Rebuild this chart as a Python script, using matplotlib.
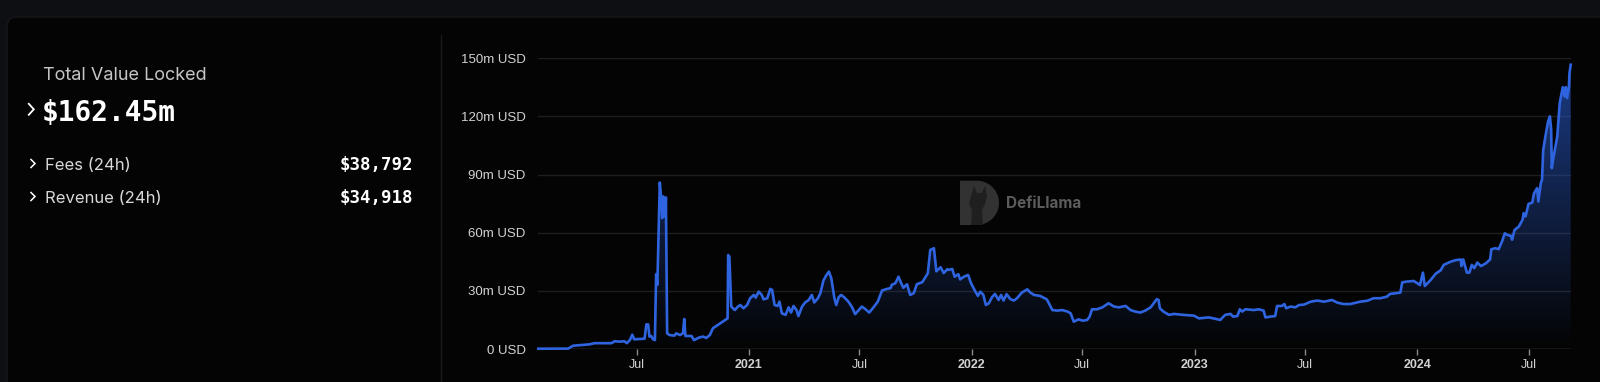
import numpy as np
import matplotlib
matplotlib.use("Agg")
import matplotlib.pyplot as plt
import matplotlib.dates as mdates
from matplotlib.lines import Line2D
from matplotlib.patches import FancyBboxPatch, Polygon
from datetime import datetime

# TVL series (millions USD)
dates = [
    "2020-01-22", "2020-03-11", "2020-03-19", "2020-04-15", "2020-04-23", "2020-05-21",
    "2020-05-26", "2020-06-03", "2020-06-11", "2020-06-15", "2020-06-20", "2020-06-24",
    "2020-06-27", "2020-07-14", "2020-07-17", "2020-07-20", "2020-07-22", "2020-07-25",
    "2020-07-28", "2020-07-31", "2020-08-02", "2020-08-04", "2020-08-08", "2020-08-10",
    "2020-08-12", "2020-08-14", "2020-08-17", "2020-08-18", "2020-08-20", "2020-08-24",
    "2020-09-01", "2020-09-04", "2020-09-10", "2020-09-15", "2020-09-17", "2020-09-19",
    "2020-09-29", "2020-10-03", "2020-10-12", "2020-10-18", "2020-10-23", "2020-10-29",
    "2020-11-03", "2020-11-11", "2020-11-27", "2020-11-28", "2020-11-30", "2020-12-03",
    "2020-12-09", "2020-12-14", "2020-12-18", "2020-12-23", "2020-12-29",
    "2021-01-03", "2021-01-09", "2021-01-12", "2021-01-17", "2021-01-22", "2021-01-25",
    "2021-01-31", "2021-02-05", "2021-02-08", "2021-02-12", "2021-02-17", "2021-02-20",
    "2021-02-24", "2021-03-02", "2021-03-07", "2021-03-11", "2021-03-15", "2021-03-20",
    "2021-03-23", "2021-03-29", "2021-04-03", "2021-04-09", "2021-04-14", "2021-04-18",
    "2021-04-24", "2021-04-28", "2021-05-03", "2021-05-08", "2021-05-12", "2021-05-16",
    "2021-05-21", "2021-05-24", "2021-05-28", "2021-06-01", "2021-06-06", "2021-06-13",
    "2021-06-19", "2021-06-24", "2021-06-30", "2021-07-05", "2021-07-11", "2021-07-17",
    "2021-07-24", "2021-07-31", "2021-08-07", "2021-08-15", "2021-08-21", "2021-08-23",
    "2021-08-29", "2021-09-03", "2021-09-07", "2021-09-11", "2021-09-17", "2021-09-22",
    "2021-09-28", "2021-10-03", "2021-10-12", "2021-10-17", "2021-10-21", "2021-10-25",
    "2021-10-31", "2021-11-04", "2021-11-11", "2021-11-16", "2021-11-22", "2021-11-24",
    "2021-11-30", "2021-12-04", "2021-12-10", "2021-12-13", "2021-12-19", "2021-12-26",
    "2021-12-31", "2022-01-07", "2022-01-11", "2022-01-15", "2022-01-20", "2022-01-24",
    "2022-01-29", "2022-02-03", "2022-02-08", "2022-02-14", "2022-02-18", "2022-02-22",
    "2022-02-27", "2022-03-05", "2022-03-11", "2022-03-16", "2022-03-24", "2022-04-02",
    "2022-04-07", "2022-04-13", "2022-04-23", "2022-05-04", "2022-05-13", "2022-05-21",
    "2022-05-29", "2022-06-07", "2022-06-12", "2022-06-17", "2022-06-25", "2022-07-02",
    "2022-07-09", "2022-07-13", "2022-07-17", "2022-07-25", "2022-08-03", "2022-08-13",
    "2022-08-22", "2022-08-30", "2022-09-10", "2022-09-18", "2022-09-26", "2022-10-04",
    "2022-10-12", "2022-10-21", "2022-10-26", "2022-10-31", "2022-11-03", "2022-11-05",
    "2022-11-11", "2022-11-20", "2022-11-28", "2022-12-14", "2022-12-31", "2023-01-08",
    "2023-01-24", "2023-02-01", "2023-02-12", "2023-02-20", "2023-03-01", "2023-03-05",
    "2023-03-12", "2023-03-16", "2023-03-20", "2023-03-25", "2023-04-08", "2023-04-16",
    "2023-04-24", "2023-04-27", "2023-05-05", "2023-05-13", "2023-05-16", "2023-05-24",
    "2023-05-28", "2023-05-31", "2023-06-07", "2023-06-15", "2023-06-21", "2023-06-29",
    "2023-07-10", "2023-07-21", "2023-08-01", "2023-08-14", "2023-08-23", "2023-09-02",
    "2023-09-13", "2023-09-29", "2023-10-11", "2023-10-21", "2023-11-01", "2023-11-12",
    "2023-11-17", "2023-12-04", "2023-12-07", "2023-12-15", "2023-12-26", "2024-01-01",
    "2024-01-05", "2024-01-10", "2024-01-13", "2024-01-22", "2024-01-31", "2024-02-08",
    "2024-02-13", "2024-02-24", "2024-03-03", "2024-03-12", "2024-03-13", "2024-03-16",
    "2024-03-22", "2024-03-26", "2024-03-30", "2024-04-03", "2024-04-08", "2024-04-14",
    "2024-04-22", "2024-04-29", "2024-05-01", "2024-05-08", "2024-05-13", "2024-05-19",
    "2024-05-23", "2024-05-27", "2024-06-02", "2024-06-04", "2024-06-08", "2024-06-15",
    "2024-06-21", "2024-06-23", "2024-06-26", "2024-07-01", "2024-07-07", "2024-07-10",
    "2024-07-15", "2024-07-17", "2024-07-21", "2024-07-23", "2024-07-25", "2024-07-29",
    "2024-08-02", "2024-08-05", "2024-08-07", "2024-08-08", "2024-08-11", "2024-08-17",
    "2024-08-21", "2024-08-24", "2024-08-26", "2024-08-29", "2024-08-31", "2024-09-02",
    "2024-09-05", "2024-09-06", "2024-09-08",
]
tvl = [
    0.15, 0.2, 1.7, 2.4, 3.0, 3.0,
    4.0, 3.8, 4.0, 3.0, 4.6, 7.4,
    5.0, 5.3, 12.7, 12.7, 6.4, 6.7,
    5.0, 4.6, 38.6, 33.1, 85.9, 79.0,
    67.5, 78.7, 68.3, 78.2, 8.1, 7.2,
    6.9, 8.1, 7.2, 8.1, 15.5, 6.7,
    6.7, 4.6, 6.0, 6.4, 5.7, 7.2,
    10.7, 12.4, 15.8, 48.5, 47.6, 21.9,
    20.1, 21.9, 22.7, 21.0, 22.7,
    26.2, 27.9, 26.5, 29.6, 27.9, 25.6,
    26.2, 31.0, 30.5, 22.7, 22.2, 24.4,
    18.4, 17.6, 21.5, 18.8, 22.2, 20.1,
    17.0, 21.9, 24.0, 25.3, 27.9, 24.0,
    26.2, 28.8, 35.3, 38.2, 39.9, 36.4,
    26.2, 22.7, 26.7, 27.9, 26.7, 24.4,
    21.5, 18.0, 20.1, 21.9, 20.5, 18.8,
    21.5, 24.4, 30.2, 31.0, 31.4, 33.1,
    34.0, 37.3, 34.2, 31.6, 33.4, 27.9,
    28.8, 33.4, 34.5, 37.1, 39.1, 51.1,
    52.0, 40.1, 42.2, 39.2, 41.2, 40.8,
    41.3, 37.3, 38.6, 35.9, 37.3, 38.2,
    33.8, 29.6, 27.4, 29.6, 27.9, 22.7,
    23.6, 26.7, 28.4, 25.3, 27.9, 25.0,
    28.3, 25.8, 25.0, 26.2, 29.1, 30.8,
    29.1, 27.9, 27.4, 25.6, 20.1, 19.8,
    20.1, 19.3, 18.4, 14.1, 15.3, 14.6,
    15.0, 16.7, 20.5, 20.5, 21.5, 23.6,
    21.9, 21.5, 22.2, 20.1, 19.3, 18.8,
    19.8, 21.5, 23.6, 25.7, 25.3, 21.0,
    19.3, 17.6, 18.1, 17.6, 17.2, 15.8,
    16.3, 15.8, 15.0, 17.6, 18.1, 16.7,
    17.0, 20.5, 19.3, 20.5, 20.1, 20.5,
    19.8, 16.3, 16.7, 17.0, 22.2, 22.2,
    23.2, 21.0, 21.9, 21.5, 22.7, 22.9,
    24.4, 25.0, 24.4, 25.3, 23.9, 23.2,
    23.2, 24.4, 24.9, 26.2, 26.2, 27.0,
    28.4, 29.1, 34.4, 34.8, 35.1, 33.9,
    33.0, 39.4, 32.5, 35.4, 38.9, 40.6,
    43.4, 45.0, 45.8, 46.2, 42.8, 46.2,
    39.4, 39.4, 43.4, 41.7, 44.6, 42.8,
    44.2, 46.2, 51.5, 52.0, 51.5, 55.9,
    59.7, 58.9, 58.4, 56.4, 61.4, 63.2,
    66.6, 70.1, 68.4, 74.9, 75.5, 80.4,
    83.0, 76.1, 85.5, 87.3, 102.8, 110.5,
    117.5, 120.0, 113.1, 93.3, 99.3, 109.6,
    126.9, 132.0, 135.1, 130.3, 135.1, 129.5,
    135.1, 142.3, 146.7,
]
y_ticks = [0, 30, 60, 90, 120, 150]
x_ticks = ["2020-07-01", "2021-01-01", "2021-07-01", "2022-01-01", "2022-07-01",
           "2023-01-01", "2023-07-01", "2024-01-01", "2024-07-01"]

tvl_label = "$162.45m"
fees_label = "$38,792"
revenue_label = "$34,918"

W, H = 1600, 382
fig = plt.figure(figsize=(W / 100, H / 100), dpi=100)
fig.patch.set_facecolor("#0e0f12")


def fx(px):
    return px / W


def fy(py):
    return 1 - py / H


# card background, drawn in pixel (display) coords
card = FancyBboxPatch((7, -40), 1640, H - 17 + 40, boxstyle="round,pad=0,rounding_size=10",
                      transform=None, facecolor="#040404", edgecolor="#16171a",
                      linewidth=1, zorder=-10)
fig.add_artist(card)
fig.add_artist(Line2D([fx(440.7), fx(440.7)], [fy(35), fy(382)], color="#1a1a1a", lw=1,
                      zorder=-5))

# left panel
fig.text(fx(43), fy(75), "Total Value Locked", color="#c6c6c6", fontsize=13,
         family="Inter", va="center")
fig.text(fx(42), fy(113), tvl_label, color="white", fontsize=20, weight="bold",
         family="DejaVu Sans Mono", va="center")
rows = [("Fees (24h)", fees_label, 165), ("Revenue (24h)", revenue_label, 198)]
for name, val, py in rows:
    fig.text(fx(45), fy(py), name, color="#d8d8d8", fontsize=12, family="Inter", va="center")
    fig.text(fx(413), fy(py), val, color="white", fontsize=12.5, weight="bold",
             family="DejaVu Sans Mono", va="center", ha="right")


def chevron(cx, cy, w, h, lw):
    fig.add_artist(Line2D([fx(cx - w / 2), fx(cx + w / 2), fx(cx - w / 2)],
                          [fy(cy - h / 2), fy(cy), fy(cy + h / 2)],
                          color="white", lw=lw, solid_joinstyle="miter"))


chevron(31.3, 109.3, 5, 11, 1.3)
chevron(33, 163.5, 4, 8, 1.1)
chevron(33, 196.5, 4, 8, 1.1)

# watermark (behind the chart): rounded "D" with a llama silhouette
dx0, dx1, dy0, dy1 = 960, 999, 180.7, 225
r = (dy1 - dy0) / 2
cxp, cyp = dx1 - r, (dy0 + dy1) / 2
theta = np.linspace(np.pi / 2, -np.pi / 2, 40)
pts = [(fx(dx0), fy(dy0))] + [(fx(cxp + r * np.cos(t)), fy(cyp - r * np.sin(t))) for t in theta] \
      + [(fx(dx0), fy(dy1))]
fig.add_artist(Polygon(pts, closed=True, transform=fig.transFigure,
                       facecolor="#323232", edgecolor="none", zorder=-4))
llama = [(974, 186), (977, 193), (982, 193), (985, 186), (987, 196), (985, 204),
         (982, 210), (983, 225), (971, 225), (972, 210), (969, 204), (971, 196)]
fig.add_artist(Polygon([(fx(a), fy(b)) for a, b in llama], closed=True,
                       transform=fig.transFigure, facecolor="#1f1f1f", edgecolor="none",
                       zorder=-3))
fig.text(fx(1006), fy(203), "DefiLlama", color="#5c5c5c", fontsize=11, weight="bold",
         family="Inter", va="center", zorder=-4)

# chart
ax = fig.add_axes([fx(538.3), fy(349), fx(1570.7 - 538.3), (349 - 58.3) / H])
ax.set_facecolor("none")
ax.set_zorder(2)
x = mdates.date2num([datetime.strptime(d, "%Y-%m-%d") for d in dates])
y = np.array(tvl)
ax.set_xlim(x[0], x[-1])
ax.set_ylim(0, 150)

line_color = "#2f64e0"
fill = ax.fill_between(x, y, 0, facecolor="none", edgecolor="none")
grad = np.zeros((256, 1, 4))
grad[:, 0, 0] = 0.18
grad[:, 0, 1] = 0.39
grad[:, 0, 2] = 0.88
grad[:, 0, 3] = np.linspace(0, 0.6, 256)
im = ax.imshow(grad, extent=[x[0], x[-1], 0, 150], aspect="auto", origin="lower", zorder=1)
im.set_clip_path(fill.get_paths()[0], transform=ax.transData)
ax.plot(x, y, color=line_color, lw=1.9, zorder=3, clip_on=False, solid_joinstyle="round")

for v in y_ticks[1:]:
    ax.axhline(v, color="#1e1e1e", lw=1, zorder=0)
ax.axhline(0, color="#5a5a5a", lw=1, zorder=2)

for s in ax.spines.values():
    s.set_visible(False)
ax.set_yticks(y_ticks)
ax.set_yticklabels([f"{v}m USD" if v else "0 USD" for v in y_ticks],
                   family="Liberation Sans", fontsize=9.5, color="#d2d2d2")
ax.tick_params(axis="y", length=0, pad=9)
xt = mdates.date2num([datetime.strptime(d, "%Y-%m-%d") for d in x_ticks])
ax.set_xticks(xt)
ax.set_xticklabels(["Jul" if d.endswith("07-01") else d[:4] for d in x_ticks],
                   family="Liberation Sans", fontsize=9, color="#d2d2d2")
for lbl, d in zip(ax.get_xticklabels(), x_ticks):
    if not d.endswith("07-01"):
        lbl.set_fontweight("bold")
ax.tick_params(axis="x", length=4, width=1, color="#8a8a8a", pad=3)

fig.savefig("out.png", dpi=100, facecolor=fig.get_facecolor())
